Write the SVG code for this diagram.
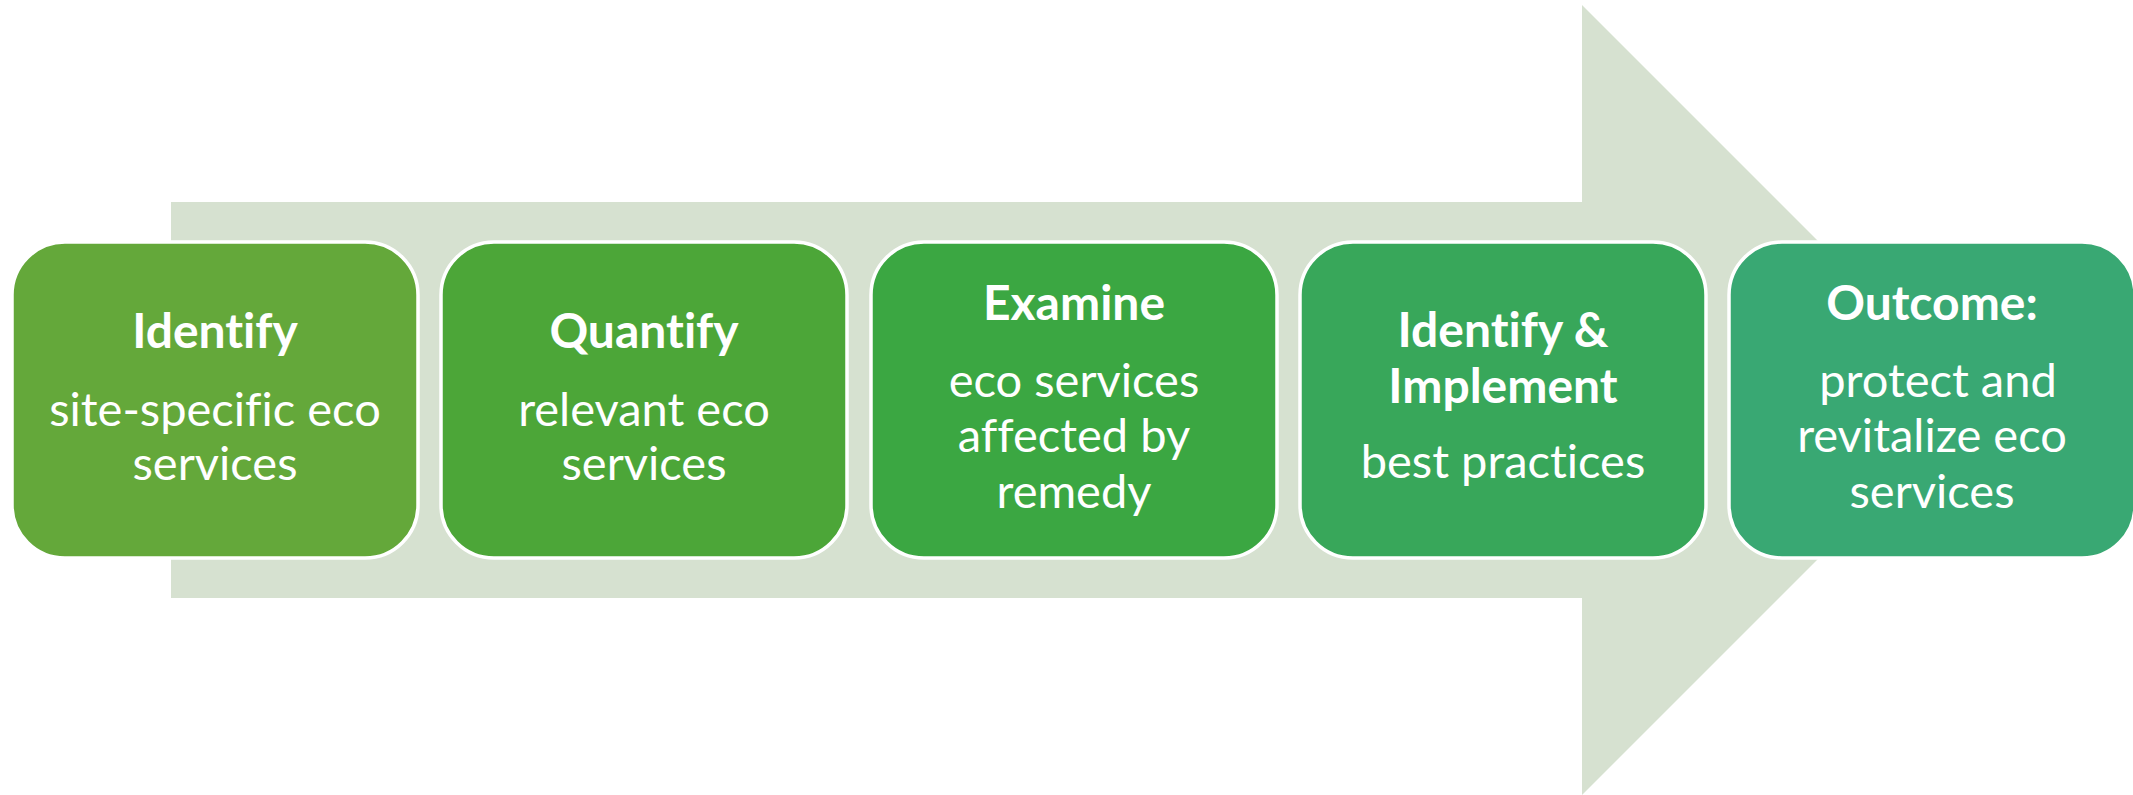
<svg xmlns="http://www.w3.org/2000/svg" width="2133" height="795" viewBox="0 0 2133 795">
<style>
.box{stroke:#ffffff;stroke-width:3.5}
text{font-family:Lato,"Open Sans","Liberation Sans",sans-serif;fill:#ffffff;text-anchor:middle;font-size:47px;font-variant-ligatures:none}
.t{font-weight:bold;font-size:48px}
</style>
<rect width="2133" height="795" fill="#ffffff"/>
<g id="arrow">
<polygon points="171,202 1582,202 1582,5 1977,400 1582,795 1582,598 171,598" fill="#D6E1D0"/>
</g>
<g id="connectors"></g>
<g id="node1">
<rect class="box" x="12" y="242" width="406" height="316" rx="53" fill="#64A83A"/>
<text class="t" x="215" y="348">Identify</text>
<text x="215" y="426">site-specific eco</text>
<text x="215" y="480">services</text>
</g>
<g id="node2">
<rect class="box" x="441" y="242" width="406" height="316" rx="53" fill="#4CA638"/>
<text class="t" x="644" y="348">Quantify</text>
<text x="644" y="426">relevant eco</text>
<text x="644" y="480">services</text>
</g>
<g id="node3">
<rect class="box" x="871" y="242" width="406" height="316" rx="53" fill="#3BA742"/>
<text class="t" x="1074" y="320">Examine</text>
<text x="1074" y="397">eco services</text>
<text x="1074" y="452">affected by</text>
<text x="1074" y="508">remedy</text>
</g>
<g id="node4">
<rect class="box" x="1300" y="242" width="406" height="316" rx="53" fill="#38A75A"/>
<text class="t" x="1503" y="347">Identify &amp;</text>
<text class="t" x="1503" y="403">Implement</text>
<text x="1503" y="478">best practices</text>
</g>
<g id="node5">
<rect class="box" x="1729" y="242" width="406" height="316" rx="53" fill="#39A873"/>
<text class="t" x="1932" y="320">Outcome:</text>
<text x="1938" y="397">protect and</text>
<text x="1932" y="452">revitalize eco</text>
<text x="1932" y="508">services</text>
</g>
</svg>
